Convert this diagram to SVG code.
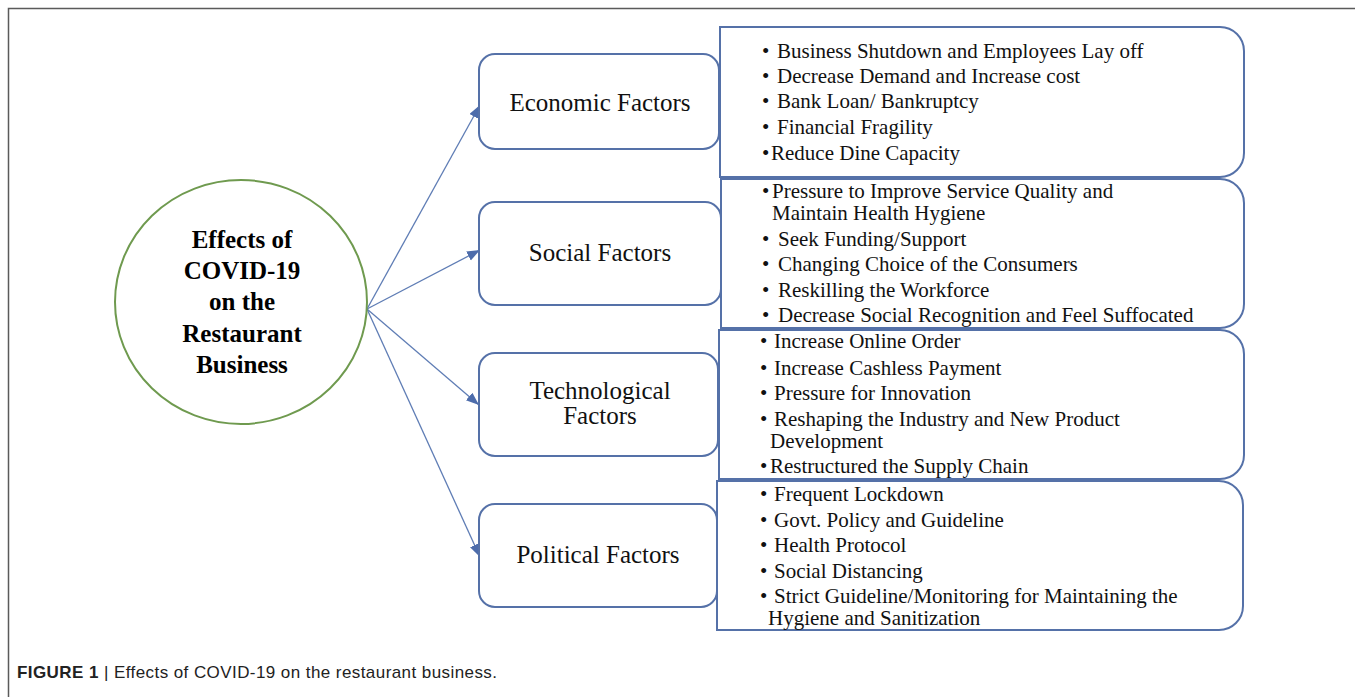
<svg xmlns="http://www.w3.org/2000/svg" width="1355" height="697" viewBox="0 0 1355 697">
<style>
.frame{fill:none;stroke:#5a5a5a;stroke-width:1.5}
.hub{fill:#fff;stroke:#6f9a4f;stroke-width:2}
.hubt{font-family:"Liberation Serif",serif;font-weight:bold;font-size:25px;fill:#000;text-anchor:middle}
.fbox{fill:#fff;stroke:#5571a8;stroke-width:2}
.ft{font-family:"Liberation Serif",serif;font-size:25px;fill:#111;text-anchor:middle}
.lbox{fill:#fff;stroke:#5571a8;stroke-width:2}
.lt{font-family:"Liberation Serif",serif;font-size:21px;fill:#111}
.con{stroke:#5f7db5;stroke-width:1.3;fill:none}
.cap{font-family:"Liberation Sans",Arial,sans-serif;font-size:17px;fill:#222}
</style>
<defs>
<marker id="ah" markerUnits="userSpaceOnUse" markerWidth="14" markerHeight="12" refX="13" refY="5" orient="auto">
<path d="M0,0 L13,5 L0,10 Z" fill="#4d6cab"/>
</marker>
</defs>
<rect width="1355" height="697" fill="#fff"/>
<rect class="frame" x="8.5" y="8.5" width="1400" height="800"/>

<g id="connectors">
<line class="con" x1="367" y1="309" x2="480" y2="105" marker-end="url(#ah)"/>
<line class="con" x1="367" y1="309" x2="480" y2="250" marker-end="url(#ah)"/>
<line class="con" x1="367" y1="309" x2="479" y2="405" marker-end="url(#ah)"/>
<line class="con" x1="367" y1="309" x2="480" y2="557" marker-end="url(#ah)"/>
</g>

<g id="hub">
<ellipse class="hub" cx="241" cy="302" rx="126" ry="122"/>
<text class="hubt" x="242" y="248">Effects of</text>
<text class="hubt" x="242" y="279">COVID-19</text>
<text class="hubt" x="242" y="310">on the</text>
<text class="hubt" x="242" y="342">Restaurant</text>
<text class="hubt" x="242" y="373">Business</text>
</g>

<g id="economic">
<rect class="fbox" x="479" y="54" width="240" height="95" rx="16"/>
<text class="ft" x="600" y="111">Economic Factors</text>
</g>
<g id="social">
<rect class="fbox" x="479" y="202" width="242" height="103" rx="16"/>
<text class="ft" x="600" y="261">Social Factors</text>
</g>
<g id="technological">
<rect class="fbox" x="479" y="353" width="239" height="103" rx="16"/>
<text class="ft" x="600" y="399">Technological</text>
<text class="ft" x="600" y="424">Factors</text>
</g>
<g id="political">
<rect class="fbox" x="479" y="504" width="238" height="103" rx="16"/>
<text class="ft" x="598" y="563">Political Factors</text>
</g>

<g id="economic-list">
<path class="lbox" d="M720,27 H1220 A24,24 0 0 1 1244,51 V153 A24,24 0 0 1 1220,177 H720 Z"/>
<text class="lt" y="58"><tspan x="762">•</tspan><tspan x="777">Business Shutdown and Employees Lay off</tspan></text>
<text class="lt" y="83"><tspan x="762">•</tspan><tspan x="777">Decrease Demand and Increase cost</tspan></text>
<text class="lt" y="108"><tspan x="762">•</tspan><tspan x="777">Bank Loan/ Bankruptcy</tspan></text>
<text class="lt" y="134"><tspan x="762">•</tspan><tspan x="777">Financial Fragility</tspan></text>
<text class="lt" y="160"><tspan x="762">•</tspan><tspan x="771">Reduce Dine Capacity</tspan></text>
</g>

<g id="social-list">
<path class="lbox" d="M721,179 H1220 A24,24 0 0 1 1244,203 V304 A24,24 0 0 1 1220,328 H721 Z"/>
<text class="lt" y="198"><tspan x="762">•</tspan><tspan x="772">Pressure to Improve Service Quality and</tspan></text>
<text class="lt" y="220" x="772">Maintain Health Hygiene</text>
<text class="lt" y="246"><tspan x="762">•</tspan><tspan x="778">Seek Funding/Support</tspan></text>
<text class="lt" y="271"><tspan x="762">•</tspan><tspan x="778">Changing Choice of the Consumers</tspan></text>
<text class="lt" y="297"><tspan x="762">•</tspan><tspan x="778">Reskilling the Workforce</tspan></text>
<text class="lt" y="322"><tspan x="762">•</tspan><tspan x="778">Decrease Social Recognition and Feel Suffocated</tspan></text>
</g>

<g id="technological-list">
<path class="lbox" d="M719,330 H1220 A24,24 0 0 1 1244,354 V455 A24,24 0 0 1 1220,479 H719 Z"/>
<text class="lt" y="348"><tspan x="760">•</tspan><tspan x="774">Increase Online Order</tspan></text>
<text class="lt" y="375"><tspan x="760">•</tspan><tspan x="774">Increase Cashless Payment</tspan></text>
<text class="lt" y="400"><tspan x="760">•</tspan><tspan x="774">Pressure for Innovation</tspan></text>
<text class="lt" y="426"><tspan x="760">•</tspan><tspan x="774">Reshaping the Industry and New Product</tspan></text>
<text class="lt" y="448" x="770">Development</text>
<text class="lt" y="473"><tspan x="760">•</tspan><tspan x="770">Restructured the Supply Chain</tspan></text>
</g>

<g id="political-list">
<path class="lbox" d="M717,481 H1219 A24,24 0 0 1 1243,505 V606 A24,24 0 0 1 1219,630 H717 Z"/>
<text class="lt" y="501"><tspan x="760">•</tspan><tspan x="774">Frequent Lockdown</tspan></text>
<text class="lt" y="527"><tspan x="760">•</tspan><tspan x="774">Govt. Policy and Guideline</tspan></text>
<text class="lt" y="552"><tspan x="760">•</tspan><tspan x="774">Health Protocol</tspan></text>
<text class="lt" y="578"><tspan x="760">•</tspan><tspan x="774">Social Distancing</tspan></text>
<text class="lt" y="603"><tspan x="760">•</tspan><tspan x="774">Strict Guideline/Monitoring for Maintaining the</tspan></text>
<text class="lt" y="625" x="768">Hygiene and Sanitization</text>
</g>

<g id="caption">
<text class="cap" x="17" y="678" textLength="480" lengthAdjust="spacing"><tspan font-weight="bold">FIGURE 1</tspan><tspan> | Effects of COVID-19 on the restaurant business.</tspan></text>
</g>
</svg>
